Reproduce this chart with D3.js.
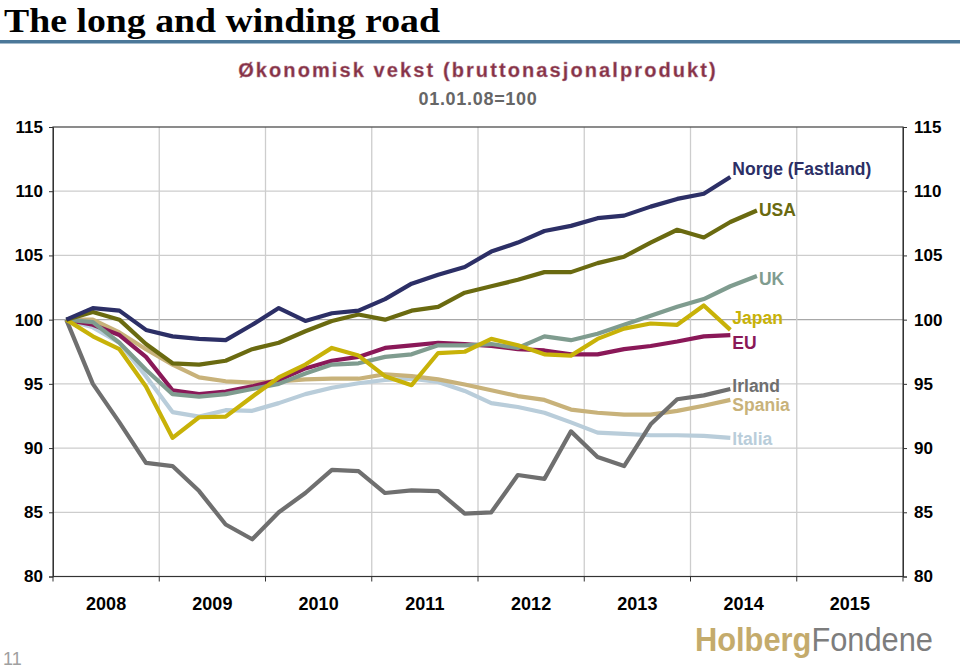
<!DOCTYPE html>
<html>
<head>
<meta charset="utf-8">
<script src="https://cdn.jsdelivr.net/npm/d3@7/dist/d3.min.js"></script>
<style>
  html, body { margin: 0; padding: 0; background: #fff; }
  svg { display: block; }
</style>
</head>
<body>
<svg id="chart" width="960" height="668"></svg>
<script>
// ---- Data (quarterly GDP index, 2008Q1 = 100) ----
const years = ["2008", "2009", "2010", "2011", "2012", "2013", "2014", "2015"];
const quartersPerYear = 4;
const yTicks = [80, 85, 90, 95, 100, 105, 110, 115];

const norge  = [100, 100.9, 100.7, 99.2, 98.7, 98.5, 98.4, 99.6, 100.9, 99.9, 100.5, 100.7, 101.6, 102.8, 103.5, 104.1, 105.3, 106.0, 106.9, 107.3, 107.9, 108.1, 108.8, 109.4, 109.8, 111.1];
const usa    = [100, 100.6, 100.0, 98.1, 96.6, 96.5, 96.8, 97.7, 98.2, 99.1, 99.9, 100.4, 100.0, 100.7, 101.0, 102.1, 102.6, 103.1, 103.7, 103.7, 104.4, 104.9, 106.0, 107.0, 106.4, 107.6, 108.5];
const uk     = [100, 99.8, 98.2, 96.1, 94.2, 94.0, 94.2, 94.6, 95.0, 95.8, 96.5, 96.6, 97.1, 97.3, 98.0, 98.0, 98.1, 97.8, 98.7, 98.4, 98.9, 99.6, 100.3, 101.0, 101.6, 102.6, 103.4];
const japan  = [100, 98.7, 97.7, 94.8, 90.8, 92.4, 92.45, 94.0, 95.5, 96.5, 97.8, 97.2, 95.6, 94.9, 97.4, 97.5, 98.5, 98.0, 97.3, 97.2, 98.5, 99.3, 99.7, 99.6, 101.1, 99.2];
const eu     = [100, 99.6, 98.8, 97.1, 94.5, 94.2, 94.4, 94.8, 95.3, 96.2, 96.8, 97.1, 97.8, 98.0, 98.2, 98.1, 97.95, 97.7, 97.6, 97.3, 97.3, 97.7, 97.95, 98.3, 98.7, 98.8];
const irland = [100, 95.0, 92.0, 88.85, 88.6, 86.65, 84.05, 82.9, 85.0, 86.5, 88.3, 88.2, 86.5, 86.7, 86.65, 84.9, 85.0, 87.9, 87.6, 91.3, 89.3, 88.6, 91.85, 93.8, 94.1, 94.6];
const spania = [100, 100.0, 99.0, 97.7, 96.5, 95.5, 95.2, 95.1, 95.2, 95.35, 95.4, 95.4, 95.75, 95.6, 95.35, 94.95, 94.5, 94.05, 93.75, 93.0, 92.75, 92.6, 92.6, 92.9, 93.3, 93.75];
const italia = [100, 99.4, 98.2, 95.6, 92.8, 92.45, 92.95, 92.9, 93.5, 94.2, 94.7, 95.05, 95.3, 95.4, 95.15, 94.45, 93.5, 93.2, 92.75, 92.0, 91.2, 91.1, 91.0, 91.0, 90.95, 90.8];

const seriesNames = ["Italia", "Spania", "Irland", "EU", "UK", "Japan", "USA", "Norge (Fastland)"];
const seriesValues = [italia, spania, irland, eu, uk, japan, usa, norge];

// ---- Styles ----
const colors = {
  "Norge (Fastland)": "#2c2f66",
  "USA": "#6a6a10",
  "UK": "#7f9c8f",
  "Japan": "#c8b208",
  "EU": "#8a1858",
  "Irland": "#6f6f6f",
  "Spania": "#c8b27a",
  "Italia": "#b9cdda"
};
const labelDy = {
  "Norge (Fastland)": -2, "USA": 6, "UK": 9, "Japan": -6,
  "EU": 14, "Irland": 3, "Spania": 11, "Italia": 7
};

const svg = d3.select("#chart");
const plot = { left: 53, right: 903, top: 127, bottom: 576.5 };

const quarters = [];
years.forEach(y => { for (let q = 1; q <= quartersPerYear; q++) quarters.push(y + "K" + q); });

const xYear = d3.scaleBand().domain(years).range([plot.left, plot.right]);
const xQ = d3.scaleBand().domain(quarters).range([plot.left, plot.right]);
const xPos = i => xQ(quarters[i]) + xQ.bandwidth() / 2;
const y = d3.scaleLinear().domain([80, 115]).range([plot.bottom, plot.top]);

// ---- Title ----
svg.append("text").attr("x", 4).attr("y", 31.5)
  .attr("font-family", "'Liberation Serif', 'Times New Roman', serif")
  .attr("font-weight", "bold").attr("font-size", 34.5).attr("fill", "#000")
  .attr("textLength", 436).attr("lengthAdjust", "spacingAndGlyphs")
  .text("The long and winding road");
svg.append("rect").attr("x", 0).attr("y", 40).attr("width", 960).attr("height", 3.5)
  .attr("fill", "#4b7899");

svg.append("text").attr("x", 478).attr("y", 77).attr("text-anchor", "middle")
  .attr("font-family", "Arial, 'Liberation Sans', sans-serif").attr("font-weight", "bold")
  .attr("font-size", 20).attr("letter-spacing", 2.1)
  .attr("fill", "#853247").attr("stroke", "#b98291").attr("stroke-width", 0.4)
  .text("Økonomisk vekst (bruttonasjonalprodukt)");
svg.append("text").attr("x", 478).attr("y", 105).attr("text-anchor", "middle")
  .attr("font-family", "Arial, 'Liberation Sans', sans-serif").attr("font-weight", "bold")
  .attr("font-size", 18).attr("letter-spacing", 0.7).attr("fill", "#666")
  .text("01.01.08=100");

// ---- Gridlines ----
const grid = svg.append("g");
grid.selectAll("line.h").data(yTicks.filter(v => v > 80 && v < 115)).enter().append("line")
  .attr("x1", plot.left).attr("x2", plot.right)
  .attr("y1", d => y(d)).attr("y2", d => y(d))
  .attr("stroke", d => d === 100 ? "#a8a8a8" : "#cdcdcd").attr("stroke-width", 1.3);
grid.selectAll("line.v").data(years.slice(1)).enter().append("line")
  .attr("x1", d => xYear(d)).attr("x2", d => xYear(d))
  .attr("y1", plot.top).attr("y2", plot.bottom)
  .attr("stroke", "#cdcdcd").attr("stroke-width", 1.3);

// ---- Frame ----
svg.append("rect").attr("x", plot.left).attr("y", plot.top)
  .attr("width", plot.right - plot.left).attr("height", plot.bottom - plot.top)
  .attr("fill", "none").attr("stroke", "#404040").attr("stroke-width", 1.2);

// ---- Axes ----
const axisFont = g => g.selectAll("text")
  .attr("font-family", "Arial, 'Liberation Sans', sans-serif")
  .attr("font-weight", "bold").attr("font-size", 17).attr("fill", "#000");

const yLeft = svg.append("g").attr("transform", `translate(${plot.left},0)`)
  .call(d3.axisLeft(y).tickValues(yTicks).tickSize(4).tickPadding(6).tickFormat(d3.format("d")));
yLeft.select(".domain").attr("stroke", "#333");
yLeft.selectAll(".tick line").attr("stroke", "#333");
axisFont(yLeft);

const yRight = svg.append("g").attr("transform", `translate(${plot.right},0)`)
  .call(d3.axisRight(y).tickValues(yTicks).tickSize(4).tickPadding(7).tickFormat(d3.format("d")));
yRight.select(".domain").attr("stroke", "#333");
yRight.selectAll(".tick line").attr("stroke", "#333");
axisFont(yRight);

// Bottom: ticks at year boundaries, labels at band centres
const xb = svg.append("g").attr("transform", `translate(0,${plot.bottom})`);
xb.append("line").attr("x1", plot.left).attr("x2", plot.right).attr("stroke", "#333").attr("stroke-width", 1.2);
xb.selectAll("line.t").data(years.concat(["end"])).enter().append("line")
  .attr("x1", d => d === "end" ? plot.right : xYear(d))
  .attr("x2", d => d === "end" ? plot.right : xYear(d))
  .attr("y1", 0).attr("y2", 5).attr("stroke", "#333");
xb.selectAll("text").data(years).enter().append("text")
  .attr("x", d => xYear(d) + xYear.bandwidth() / 2).attr("y", 33)
  .attr("text-anchor", "middle")
  .attr("font-family", "Arial, 'Liberation Sans', sans-serif")
  .attr("font-weight", "bold").attr("font-size", 18).attr("fill", "#000")
  .text(d => d);

// ---- Lines ----
const line = d3.line().x((d, i) => xPos(i)).y(d => y(d));
const linesG = svg.append("g");
seriesNames.forEach((name, k) => {
  linesG.append("path").datum(seriesValues[k])
    .attr("d", line).attr("fill", "none")
    .attr("stroke", colors[name]).attr("stroke-width", 4.2)
    .attr("stroke-linejoin", "round").attr("stroke-linecap", "butt");
});

// ---- End labels ----
seriesNames.forEach((name, k) => {
  const vals = seriesValues[k];
  const i = vals.length - 1;
  svg.append("text")
    .attr("x", xPos(i) + 2).attr("y", y(vals[i]) + labelDy[name])
    .attr("font-family", "Arial, 'Liberation Sans', sans-serif")
    .attr("font-weight", "bold").attr("font-size", 17.5)
    .attr("fill", colors[name])
    .text(name);
});

// ---- Footer ----
const logo = svg.append("text").attr("x", 695).attr("y", 651)
  .attr("font-family", "Arial, 'Liberation Sans', sans-serif").attr("font-size", 34)
  .attr("textLength", 238).attr("lengthAdjust", "spacingAndGlyphs");
logo.append("tspan").attr("font-weight", "bold").attr("fill", "#c4ab6c").text("Holberg");
logo.append("tspan").attr("fill", "#7d7d7d").text("Fondene");

svg.append("text").attr("x", 3).attr("y", 665)
  .attr("font-family", "'Liberation Sans Narrow', Arial, sans-serif").attr("font-size", 18)
  .attr("fill", "#a0a0a0").text("11");
</script>
</body>
</html>
